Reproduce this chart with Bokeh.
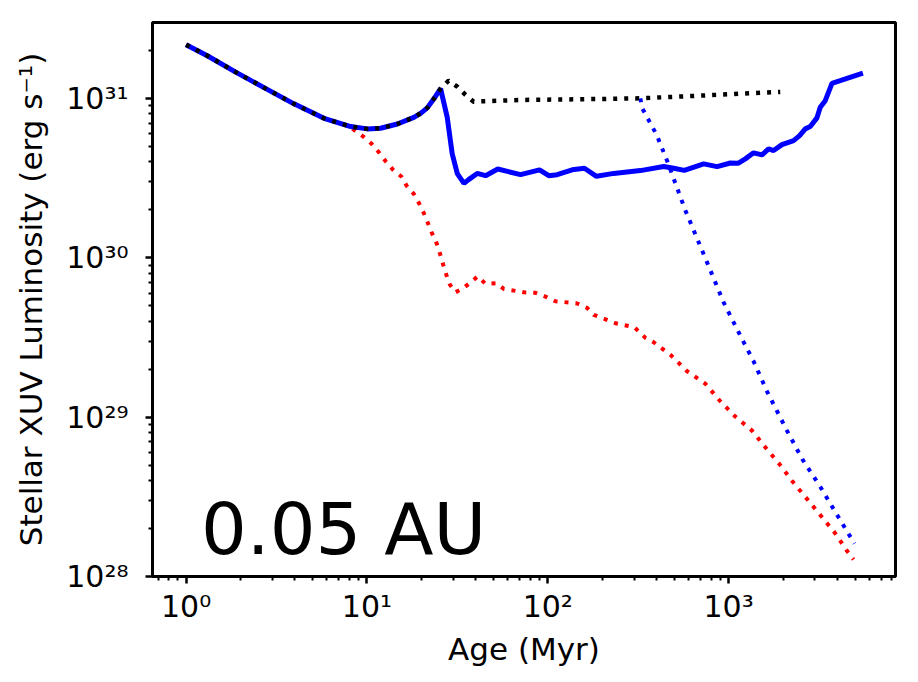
from bokeh.plotting import figure
from bokeh.models import Range1d, FixedTicker, Label
from bokeh.embed import file_html
from bokeh.resources import INLINE

# Early evolution shared by every track (age in Myr, L_XUV in erg/s)
early_age = [1.0, 1.31, 1.88, 2.76, 3.95, 5.79, 8.13, 10.05, 11.9, 14.72, 18.18, 19.8, 21.56,
             23.4, 25.54]
early_lum = [2.17e31, 1.85e31, 1.46e31, 1.15e31, 9.23e30, 7.49e30, 6.65e30, 6.43e30, 6.49e30,
             6.90e30, 7.60e30, 8.05e30, 8.71e30, 9.9e30, 1.15e31]

# Black dotted track after the peak
black_age = [28.3, 31.7, 35.1, 38.9, 70.7, 151.7, 325.0, 698.0, 1930.0]
black_lum = [1.29e31, 1.18e31, 1.05e31, 9.53e30, 9.77e30, 9.86e30, 1.0e31, 1.04e31, 1.097e31]

# Blue solid track after the peak
blue_age = [27.8, 29.6, 31.6, 34.4, 36.5, 40.7, 45.3, 52.9, 70.7, 90.0, 101.3, 112.7, 136.4,
            159.5, 185.8, 231.6, 325.0, 437.5, 497.0, 569.0, 728.0, 863.0, 1022.0, 1127.0,
            1237.0, 1374.0, 1530.0, 1663.0, 1773.0, 1972.0, 2286.0, 2468.0, 2654.0, 2828.0,
            3079.0, 3211.0, 3422.0, 3727.0, 4140.0, 5528.0]
blue_lum = [7.60e30, 4.50e30, 3.37e30, 2.93e30, 3.09e30, 3.38e30, 3.27e30, 3.60e30, 3.32e30,
            3.56e30, 3.27e30, 3.32e30, 3.56e30, 3.64e30, 3.24e30, 3.38e30, 3.52e30, 3.73e30,
            3.64e30, 3.53e30, 3.88e30, 3.73e30, 3.93e30, 3.91e30, 4.17e30, 4.55e30, 4.42e30,
            4.82e30, 4.70e30, 5.12e30, 5.43e30, 5.83e30, 6.43e30, 6.65e30, 7.54e30, 8.78e30,
            9.67e30, 1.24e31, 1.29e31, 1.44e31]

# Blue dotted track, branching off the black one
bdot_age = [325.0, 332.0, 400.0, 456.7, 576.6, 760.0, 938.0, 1186.0, 1374.0, 1630.0, 2102.0,
            2564.0, 3211.0, 3972.0, 4966.0]
bdot_lum = [1.0e31, 8.71e30, 5.9e30, 4.06e30, 1.98e30, 9.35e29, 5.25e29, 3.09e29, 2.24e29,
            1.45e29, 8.22e28, 5.41e28, 3.66e28, 2.44e28, 1.61e28]

# Red dotted track, branching off near 8 Myr
red_age = [8.47, 9.55, 10.62, 11.65, 12.69, 13.92, 15.49, 16.57, 18.18, 19.48, 20.65, 21.84,
           22.98, 24.36, 25.44, 26.43, 27.46, 28.75, 30.9, 34.1, 37.4, 41.06, 45.3, 52.1, 57.1,
           73.7, 85.5, 97.1, 110.3, 144.1, 165.1, 179.6, 236.6, 301.3, 346.6, 385.0, 482.5,
           589.0, 743.5, 891.9, 1089.0, 1347.0, 1595.0, 1905.0, 2257.0, 2711.0, 3211.0,
           3852.0, 4510.0, 4906.0]
red_lum = [6.34e30, 5.75e30, 5.18e30, 4.58e30, 4.03e30, 3.57e30, 3.23e30, 2.83e30, 2.51e30,
           2.18e30, 1.90e30, 1.63e30, 1.41e30, 1.22e30, 1.046e30, 9.01e29, 7.83e29, 6.78e29,
           6.07e29, 6.43e29, 7.01e29, 7.64e29, 6.85e29, 6.91e29, 6.37e29, 6.07e29, 6.02e29,
           5.70e29, 5.33e29, 5.18e29, 4.84e29, 4.38e29, 3.88e29, 3.66e29, 3.14e29, 2.95e29,
           2.43e29, 1.94e29, 1.62e29, 1.27e29, 1.007e29, 8.23e28, 6.47e28, 5.09e28, 3.94e28,
           3.07e28, 2.43e28, 1.89e28, 1.45e28, 1.28e28]

x_ticks = [1, 10, 100, 1000]
x_tick_labels = ["10\u2070", "10\u00b9", "10\u00b2", "10\u00b3"]
y_ticks = [1e28, 1e29, 1e30, 1e31]
y_tick_labels = ["10\u00b2\u2078", "10\u00b2\u2079", "10\u00b3\u2070", "10\u00b3\u00b9"]

panel_text = "0.05 AU"

FONT = "DejaVu Sans"
X_LO, X_HI = 0.652, 8370
Y_LO, Y_HI = 1e28, 2.99e31

p = figure(width=918, height=682, x_axis_type="log", y_axis_type="log",
           x_range=Range1d(X_LO, X_HI), y_range=Range1d(Y_LO, Y_HI),
           output_backend="svg", toolbar_location=None,
           min_border_left=152, min_border_right=23, min_border_top=22, min_border_bottom=106)

p.background_fill_color = "white"
p.border_fill_color = "white"
p.outline_line_color = "black"
p.outline_line_width = 3
p.xgrid.visible = False
p.ygrid.visible = False


def minor_log(lo_exp, hi_exp, lo, hi):
    out = []
    for e in range(lo_exp, hi_exp + 1):
        for m in range(2, 10):
            v = m * 10.0 ** e
            if lo <= v <= hi:
                out.append(v)
    return out


p.xaxis.ticker = FixedTicker(ticks=x_ticks, minor_ticks=minor_log(-1, 3, X_LO, X_HI))
p.yaxis.ticker = FixedTicker(ticks=y_ticks, minor_ticks=minor_log(28, 31, Y_LO, Y_HI))
p.xaxis.major_label_overrides = {t: s for t, s in zip(x_ticks, x_tick_labels)}
p.yaxis.major_label_overrides = {t: s for t, s in zip(y_ticks, y_tick_labels)}

for ax in (p.xaxis[0], p.yaxis[0]):
    ax.axis_line_width = 3
    ax.axis_line_color = "black"
    ax.major_tick_in = 0
    ax.major_tick_out = 7
    ax.minor_tick_in = 0
    ax.minor_tick_out = 4
    ax.major_tick_line_width = 2.5
    ax.minor_tick_line_width = 2
    ax.major_label_text_font = FONT
    ax.major_label_text_font_size = "30px"
    ax.major_label_text_color = "black"
    ax.axis_label_text_font = FONT
    ax.axis_label_text_font_size = "31px"
    ax.axis_label_text_font_style = "normal"
    ax.axis_label_text_color = "black"

p.xaxis.axis_label = "Age (Myr)"
p.yaxis.axis_label = "Stellar XUV Luminosity (erg s\u207b\u00b9)"
p.xaxis.major_label_standoff = 5
p.yaxis.major_label_standoff = 17
p.xaxis.axis_label_standoff = 4
p.yaxis.axis_label_standoff = 14

DOT = "4 7"

# dotted branches first, then the blue solid track, black dotted on top
p.line(early_age[:7] + red_age, early_lum[:7] + red_lum,
       line_color="#ff0000", line_width=4, line_dash=DOT)
p.line(bdot_age, bdot_lum, line_color="#0000ff", line_width=4, line_dash=DOT)
p.line(early_age + blue_age, early_lum + blue_lum, line_color="#0000ff", line_width=5)
p.line(early_age + black_age, early_lum + black_lum, line_color="black", line_width=4.5, line_dash=DOT)

p.add_layout(Label(x=1.21, y=1.085e28, text=panel_text, text_font=FONT, text_font_size="72px",
                   text_baseline="bottom", text_color="black"))

open("out.html", "w").write(file_html(p, INLINE))
